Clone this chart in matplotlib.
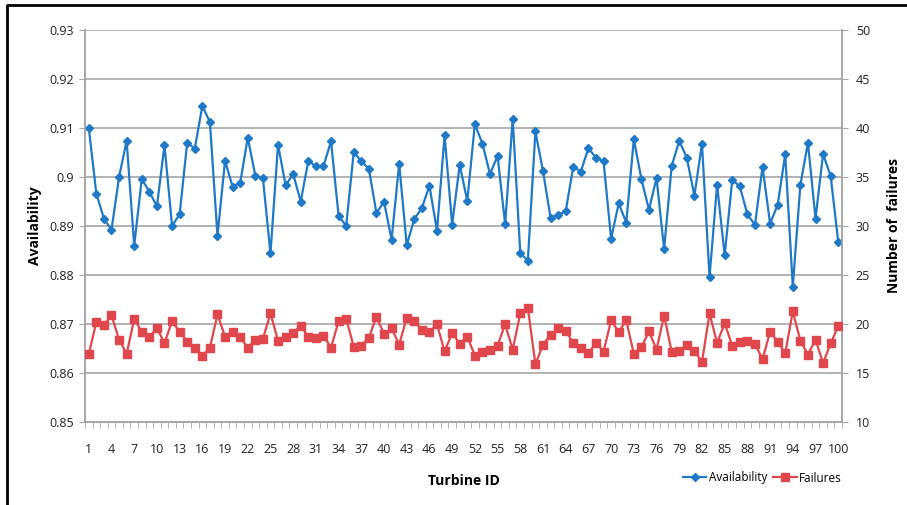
import numpy as np
from matplotlib import pyplot as plt
from matplotlib.lines import Line2D

# --- data ---
turbine_id = list(range(1, 101))

availability = [
    0.9100, 0.8966, 0.8915, 0.8892, 0.9000, 0.9074, 0.8860, 0.8996, 0.8970, 0.8940,
    0.9065, 0.8900, 0.8924, 0.9070, 0.9058, 0.9145, 0.9112, 0.8880, 0.9033, 0.8980,
    0.8988, 0.9080, 0.9003, 0.8998, 0.8844, 0.9066, 0.8983, 0.9006, 0.8950, 0.9033,
    0.9022, 0.9022, 0.9073, 0.8921, 0.8900, 0.9051, 0.9032, 0.9017, 0.8926, 0.8950,
    0.8872, 0.9027, 0.8861, 0.8914, 0.8937, 0.8982, 0.8890, 0.9085, 0.8903, 0.9025,
    0.8951, 0.9108, 0.9068, 0.9006, 0.9043, 0.8904, 0.9118, 0.8845, 0.8829, 0.9093,
    0.9012, 0.8917, 0.8923, 0.8930, 0.9021, 0.9011, 0.9059, 0.9039, 0.9032, 0.8874,
    0.8946, 0.8907, 0.9077, 0.8996, 0.8933, 0.8998, 0.8853, 0.9022, 0.9074, 0.9039,
    0.8962, 0.9068, 0.8796, 0.8984, 0.8840, 0.8994, 0.8981, 0.8924, 0.8902, 0.9021,
    0.8905, 0.8943, 0.9046, 0.8776, 0.8984, 0.9070, 0.8915, 0.9047, 0.9002, 0.8868,
]

failures = [
    16.95, 20.20, 19.86, 20.90, 18.40, 16.95, 20.50, 19.20, 18.70, 19.56,
    18.07, 20.27, 19.20, 18.20, 17.56, 16.78, 17.56, 20.98, 18.70, 19.20,
    18.64, 17.60, 18.40, 18.50, 21.08, 18.30, 18.70, 19.10, 19.83, 18.70,
    18.60, 18.80, 17.60, 20.27, 20.54, 17.70, 17.80, 18.60, 20.75, 18.98,
    19.56, 17.90, 20.64, 20.30, 19.42, 19.19, 19.97, 17.20, 19.08, 18.00,
    18.70, 16.78, 17.19, 17.39, 17.80, 19.97, 17.39, 21.08, 21.66, 15.90,
    17.90, 18.88, 19.56, 19.29, 18.07, 17.50, 17.05, 18.07, 17.19, 20.37,
    19.19, 20.37, 16.95, 17.63, 19.25, 17.39, 20.85, 17.19, 17.29, 17.86,
    17.29, 16.10, 21.08, 18.07, 20.07, 17.80, 18.20, 18.27, 17.97, 16.40,
    19.19, 18.20, 17.02, 21.29, 18.30, 16.88, 18.40, 16.00, 18.03, 19.76,
]

avail_ticks = [0.85, 0.86, 0.87, 0.88, 0.89, 0.90, 0.91, 0.92, 0.93]
avail_labels = ['0.85', '0.86', '0.87', '0.88', '0.89', '0.9', '0.91', '0.92', '0.93']
fail_ticks = [10, 15, 20, 25, 30, 35, 40, 45, 50]

blue = '#2079c7'
red = '#e0474c'
grid_gray = '#a6a6a6'

plt.rcParams['font.family'] = ['Open Sans', 'DejaVu Sans']
plt.rcParams['font.size'] = 9

fig = plt.figure(figsize=(9.07, 5.05), dpi=100)
ax1 = fig.add_axes([85 / 907, 1 - 422 / 505, (842 - 85) / 907, (422 - 30) / 505])
ax2 = ax1.twinx()

ax1.plot(turbine_id, availability, color=blue, lw=1.6, marker='D', ms=4.5,
         label='Availability', zorder=3)
ax2.plot(turbine_id, failures, color=red, lw=1.6, marker='s', ms=6,
         label='Failures', zorder=3)

# 軸の範囲
ax1.set_xlim(0.5, 100.5)
ax1.set_ylim(0.85, 0.93)
ax2.set_ylim(10, 50)

ax1.set_yticks(avail_ticks)
ax1.set_yticklabels(avail_labels)
ax2.set_yticks(fail_ticks)

# x軸: ラベルは3つおき、目盛は境界ごと
ax1.set_xticks(turbine_id[::3])
ax1.set_xticks(np.arange(0.5, 101, 1), minor=True)
ax1.tick_params(axis='x', which='major', length=0, pad=15, colors='#222222')
ax1.tick_params(axis='x', which='minor', length=4, color=grid_gray)
ax1.tick_params(axis='y', length=4, color=grid_gray, colors='#222222', pad=4)
ax2.tick_params(axis='y', length=4, color=grid_gray, colors='#222222', pad=6)

ax1.yaxis.grid(True, color=grid_gray, lw=1.2)
ax1.set_axisbelow(True)

for a in (ax1, ax2):
    a.spines['top'].set_visible(False)
    for s in ('left', 'right', 'bottom'):
        a.spines[s].set_color(grid_gray)
        a.spines[s].set_linewidth(1.2)

ax1.set_xlabel('Turbine ID', fontweight='bold', fontsize=10, labelpad=13)
ax1.set_ylabel('Availability', fontweight='bold', fontsize=10, labelpad=5)
ax2.set_ylabel('Number of  failures', fontweight='bold', fontsize=10, labelpad=12)

handles = [Line2D([], [], color=blue, lw=1.6, marker='D', ms=4.5),
           Line2D([], [], color=red, lw=1.6, marker='s', ms=6)]
fig.legend(handles, ['Availability', 'Failures'], loc='center right',
           bbox_to_anchor=(850 / 907, 1 - 478 / 505), ncol=2, frameon=False,
           handlelength=2.0, columnspacing=0.5, handletextpad=0.2, fontsize=8.5,
           borderpad=0.2)

# 外枠
fig.add_artist(Line2D([7 / 907, 7 / 907, 1.0], [0.0, 1 - 5 / 505, 1 - 5 / 505],
                      color='black', lw=2, transform=fig.transFigure))

fig.savefig('out.png', dpi=100)
plt.close()
